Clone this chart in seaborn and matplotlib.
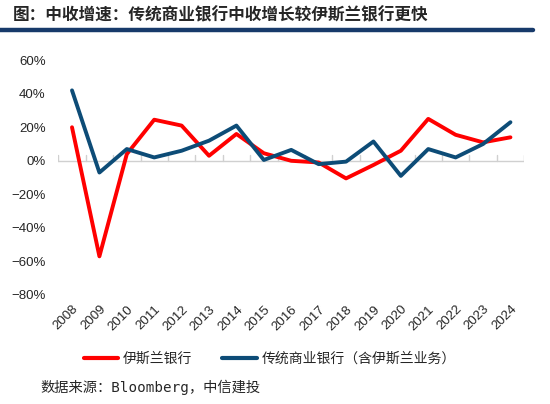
import pandas as pd
import matplotlib.pyplot as plt
import seaborn as sns
from matplotlib.lines import Line2D

years = [str(y) for y in range(2008, 2025)]
islamic = [20, -57, 4, 24.5, 21, 3, 16, 4.5, 0, -1, -10.5, -2.5, 6, 25, 15.5, 11, 14]
conventional = [42, -7, 7, 2, 6, 12, 21, 0.5, 6.5, -2, -0.5, 11.5, -9, 7, 2, 10, 23]

name_islamic = '伊斯兰银行'
name_conv = '传统商业银行（含伊斯兰业务）'
title = '图：中收增速：传统商业银行中收增长较伊斯兰银行更快'
source = '数据来源：Bloomberg，中信建投'

df = pd.DataFrame({'year': years * 2,
                   'value': islamic + conventional,
                   'series': [name_islamic] * len(years) + [name_conv] * len(years)})

sns.set_style('white')
plt.rcParams['font.family'] = ['Liberation Sans', 'Noto Sans CJK SC', 'DejaVu Sans']
cjk = ['Noto Sans CJK SC', 'DejaVu Sans']
mono = ['DejaVu Sans Mono', 'Noto Sans CJK SC']

fig = plt.figure(figsize=(5.5, 4.04), dpi=100)
ax = fig.add_axes([0.106, 0.270, 0.847, 0.581])

palette = {name_islamic: '#FF0000', name_conv: '#0D4C77'}
sns.lineplot(data=df, x='year', y='value', hue='series', palette=palette,
             linewidth=2.8, sort=False, ax=ax, legend=False)

ax.set_ylim(-80, 60)
ax.set_xlim(-0.5, len(years) - 0.5)
ax.set_yticks(range(-80, 61, 20))
ax.set_yticklabels([f'{v}%'.replace('-', '−') for v in range(-80, 61, 20)], fontsize=9.5)
for s in ax.spines.values():
    s.set_visible(False)
ax.set_xlabel('')
ax.set_ylabel('')
ax.tick_params(axis='both', length=0)
ax.tick_params(axis='y', pad=9)

# zero axis with ticks between categories
ax.axhline(0, color='#D0D0D0', lw=1, zorder=0)
for i in range(len(years) + 1):
    ax.plot([i - 0.5, i - 0.5], [0, 3.2], color='#D0D0D0', lw=1, zorder=0)

ax.set_xticks(range(len(years)))
ax.set_xticklabels(years, rotation=45, ha='right', rotation_mode='anchor', fontsize=9.5)
ax.tick_params(axis='x', pad=6)

# title and rule
fig.text(0.024, 0.962, title, fontsize=12, fontweight='bold', family=cjk, va='center')
fig.add_artist(Line2D([0.0, 0.969], [0.925, 0.925], color='#173A6A', lw=3.2))

handles = [Line2D([], [], color=palette[name_islamic], lw=3),
           Line2D([], [], color=palette[name_conv], lw=3)]
fig.legend(handles, [name_islamic, name_conv], loc='center left', bbox_to_anchor=(0.152, 0.112),
           ncol=2, frameon=False, prop={'family': cjk, 'size': 10},
           handlelength=2.5, handletextpad=0.3, columnspacing=2.2, borderpad=0, borderaxespad=0)

fig.text(0.073, 0.042, source, fontsize=10.3, family=mono, va='center')

plt.savefig('out.png', dpi=100)
plt.close()
